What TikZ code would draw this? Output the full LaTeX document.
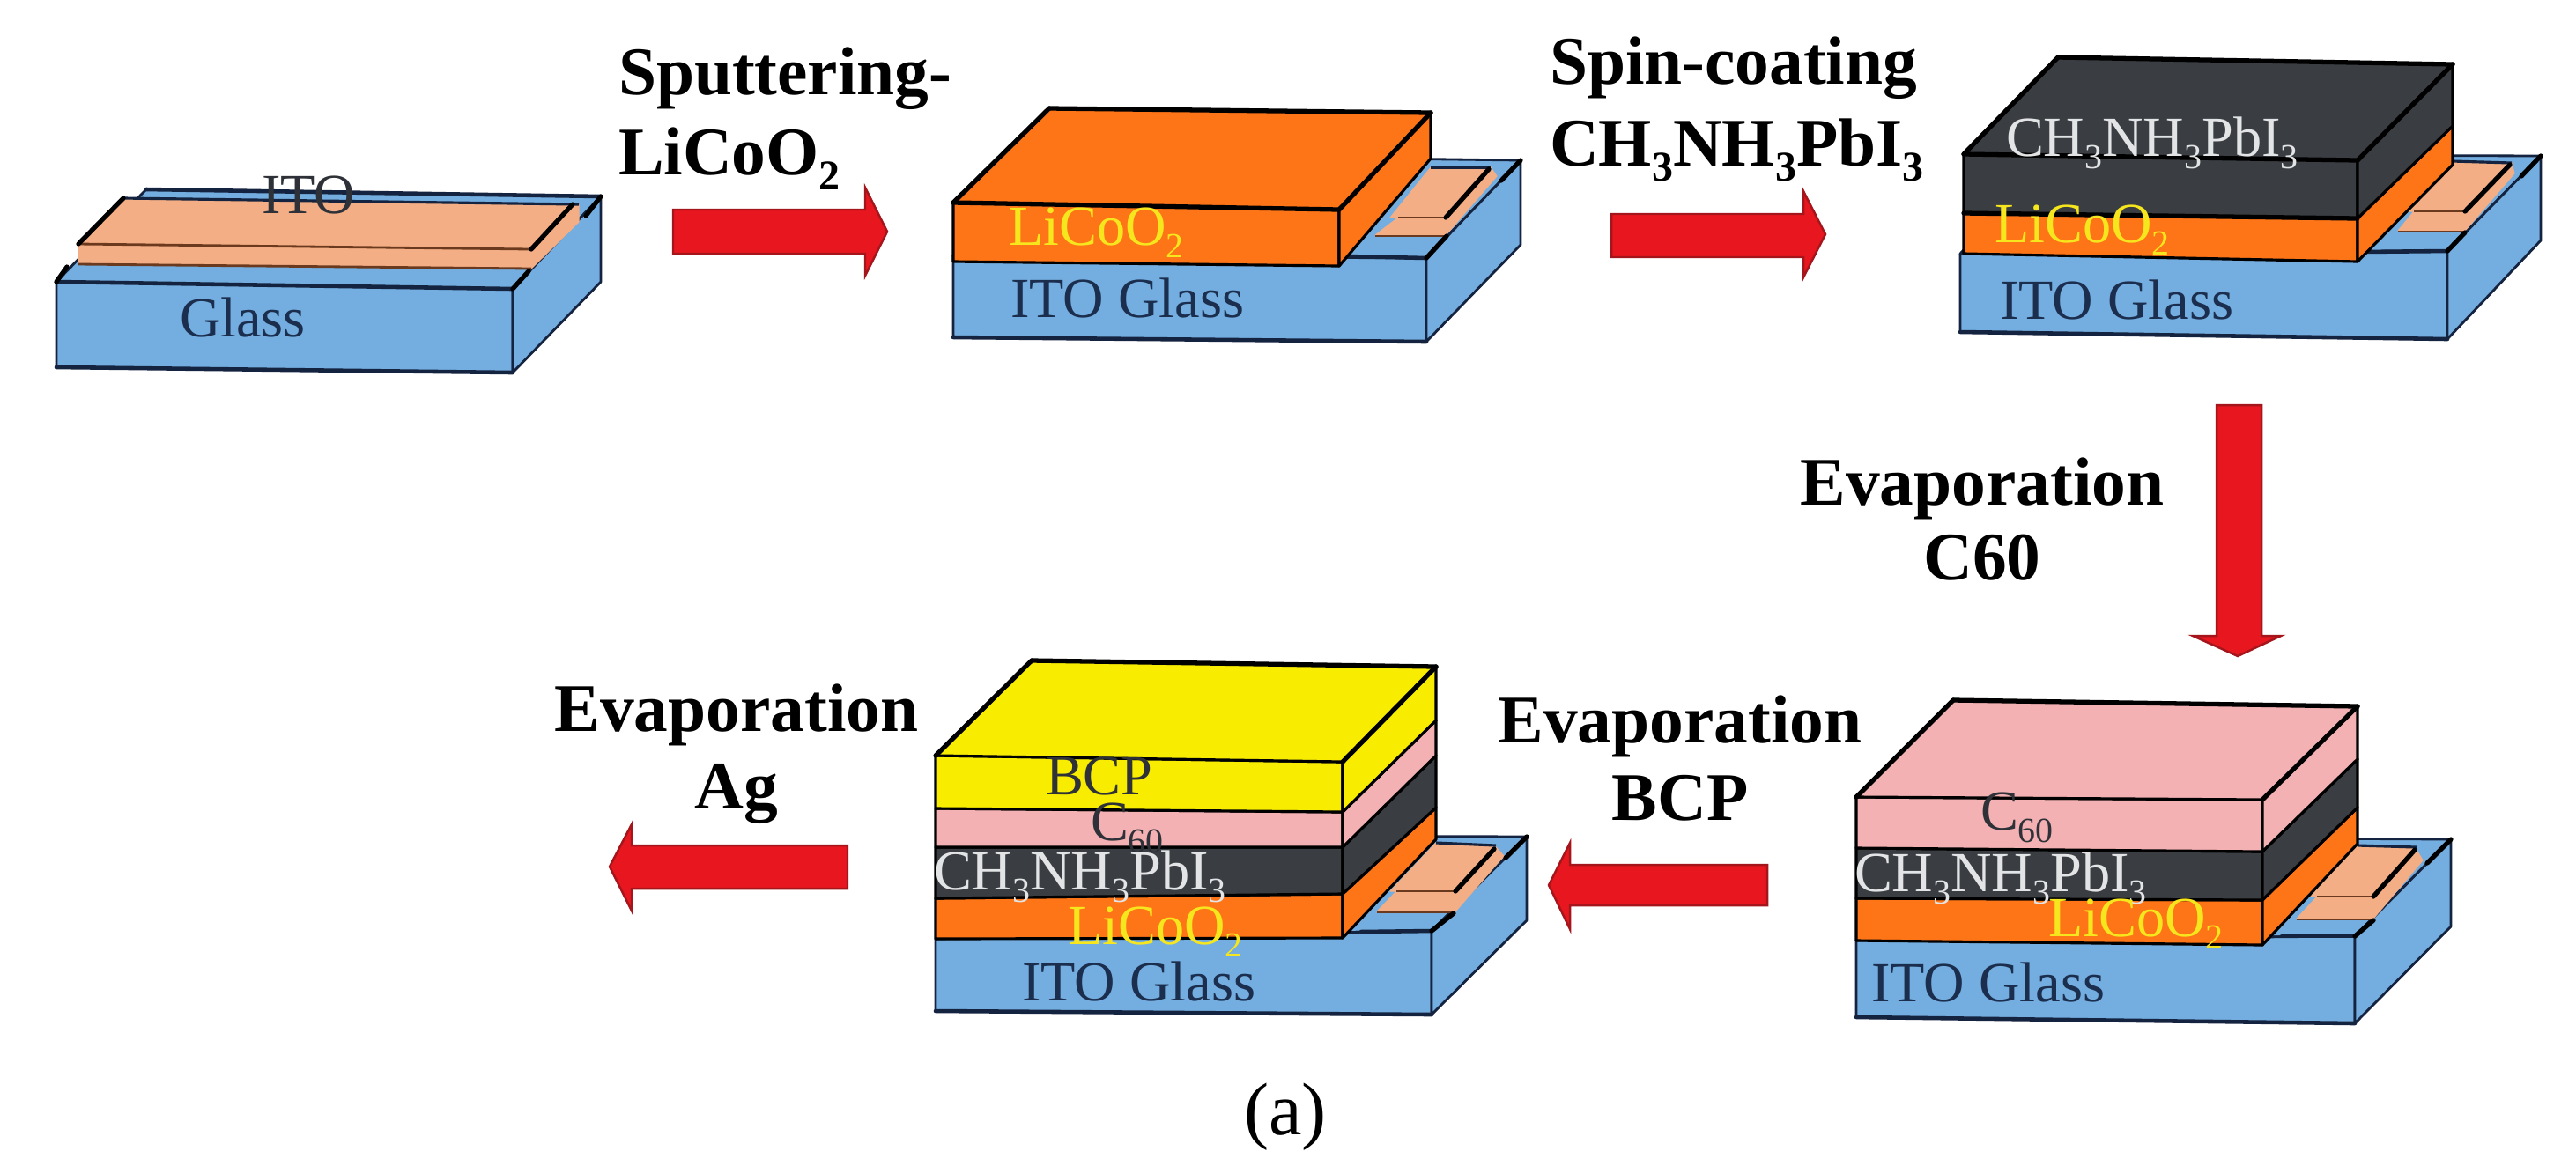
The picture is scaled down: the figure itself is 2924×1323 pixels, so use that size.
\documentclass[tikz,border=0pt]{standalone}
\usepackage{fontspec}
\setmainfont{Liberation Serif}
\definecolor{glassblue}{HTML}{74ADDF}
\definecolor{navyline}{HTML}{14233F}
\definecolor{itoskin}{HTML}{F4AE85}
\definecolor{itoline}{HTML}{6B3A1E}
\definecolor{liorange}{HTML}{FE7518}
\definecolor{perovdark}{HTML}{3A3D41}
\definecolor{cpink}{HTML}{F3B1B3}
\definecolor{bcpyellow}{HTML}{F8EC00}
\definecolor{arrowred}{HTML}{E8171F}
\definecolor{arrowedge}{HTML}{A5161C}
\definecolor{labelyellow}{HTML}{F6E61E}
\definecolor{labelwhite}{HTML}{E2E4E6}
\definecolor{labelnavy}{HTML}{1B2E4E}
\definecolor{labeldark}{HTML}{2E3238}
\newcommand\lowsub[1]{\raisebox{-.22em}{\scalebox{.62}{#1}}}
\newcommand\face[5]{\path[#1] (#2)--(#3)--(#4)--(#5)--cycle;}
\newcommand\edge[3]{\draw[#1] (#2)--(#3);}
\newcommand\LCO{LiCoO\lowsub{2}}
\newcommand\MAPI{CH\lowsub{3}NH\lowsub{3}PbI\lowsub{3}}
\newcommand\Csixty{C\lowsub{60}}
\tikzset{
  glassface/.style={fill=glassblue,draw=navyline,line width=0.8pt,line join=round},
  itoface/.style={fill=itoskin,draw=itoskin,line width=0.3pt,line join=round},
  itoedge/.style={draw=itoline,line width=0.8pt},
  backedge/.style={draw=navyline,line width=0.9pt},
  orangeface/.style={fill=liorange,draw=black,line width=0.9pt,line join=round},
  darkface/.style={fill=perovdark,draw=black,line width=0.9pt,line join=round},
  pinkface/.style={fill=cpink,draw=black,line width=0.9pt,line join=round},
  yellowface/.style={fill=bcpyellow,draw=black,line width=0.9pt,line join=round},
  heavy/.style={draw=black,line width=1.5pt,line cap=round},
  heavynavy/.style={draw=navyline,line width=1.3pt,line cap=round},
  processarrow/.style={fill=arrowred,draw=arrowedge,line width=0.7pt,line join=miter},
  lab/.style={inner sep=0pt,outer sep=0pt,anchor=base west,font=\fontsize{18.3}{20}\selectfont},
  steplab/.style={inner sep=0pt,outer sep=0pt,font=\fontsize{22}{24}\selectfont\bfseries,text=black},
}
\begin{document}
\begin{tikzpicture}[x=0.01cm,y=-0.01cm]
\useasboundingbox[fill=white] (0,0) rectangle (2924,1323);

%% device 1: ITO on glass
\face{glassface}{64,320}{582,328}{682,223}{166,215}
\face{glassface}{64,320}{582,328}{582,423}{64,417}
\face{glassface}{582,328}{682,223}{682,320}{582,423}
\edge{heavynavy}{64,320}{582,328}
\edge{heavynavy}{64,417}{582,423}
\edge{heavynavy}{166,215}{682,223}
\face{itoface}{140,225}{657,232}{603,283}{89,277}
\face{itoface}{89,277}{603,283}{603,305}{89,300}
\face{itoface}{603,283}{657,232}{657,252}{603,305}
\edge{itoedge}{89,277}{603,283}
\edge{itoedge}{89,300}{603,305}
\edge{backedge}{140,225}{657,232}
\edge{heavy}{140,225}{89,277}
\edge{heavy}{603,283}{650,232}
\edge{heavy}{582,328}{600,308}
\edge{heavy}{682,223}{665,245}
\edge{heavy}{64,320}{76,303}

%% device 2: LiCoO2
\face{glassface}{1082,290}{1619,293}{1726,182}{1191,175}
\face{glassface}{1082,290}{1619,293}{1619,388}{1082,383}
\face{glassface}{1619,293}{1726,182}{1726,278}{1619,388}
\edge{heavynavy}{1082,383}{1619,388}
\edge{heavynavy}{1530,291}{1619,293}
\face{itoface}{1561,267}{1641,267}{1641,247}{1587,247}
\face{itoface}{1578,247}{1641,247}{1692,190}{1624,190}
\face{itoface}{1641,247}{1641,267}{1699,200}{1692,190}
\edge{itoedge}{1587,247}{1641,247}
\edge{itoedge}{1561,268}{1641,268}
\edge{backedge}{1624,190}{1692,190}
\edge{heavy}{1641,247}{1690,192}
\edge{heavy}{1619,293}{1642,268}
\edge{heavy}{1726,182}{1704,205}
\face{orangeface}{1082,230}{1520,238}{1520,302}{1082,297}
\face{orangeface}{1520,238}{1624,128}{1624,180}{1520,302}
\face{orangeface}{1082,230}{1520,238}{1624,128}{1191,123}
\edge{heavy}{1082,230}{1191,123}
\edge{heavy}{1520,238}{1624,128}
\edge{heavy}{1082,230}{1520,238}
\edge{heavy}{1191,123}{1624,128}

%% device 3: perovskite
\face{glassface}{2225,288}{2778,285}{2884,177}{2330,175}
\face{glassface}{2225,288}{2778,285}{2778,385}{2225,377}
\face{glassface}{2778,285}{2884,177}{2884,273}{2778,385}
\edge{heavynavy}{2225,377}{2778,385}
\edge{heavynavy}{2680,286}{2778,285}
\face{itoface}{2722,262}{2798,262}{2798,240}{2740,240}
\face{itoface}{2732,240}{2798,240}{2851,185}{2784,183}
\face{itoface}{2798,240}{2798,262}{2854,197}{2851,185}
\edge{itoedge}{2740,240}{2798,240}
\edge{itoedge}{2722,263}{2798,263}
\edge{backedge}{2784,183}{2851,185}
\edge{heavy}{2798,240}{2849,187}
\edge{heavy}{2778,285}{2798,264}
\edge{heavy}{2884,177}{2862,200}
\face{orangeface}{2229,242}{2676,248}{2676,297}{2229,288}
\face{orangeface}{2676,248}{2784,143}{2784,187}{2676,297}
\face{darkface}{2229,175}{2676,182}{2676,248}{2229,242}
\face{darkface}{2676,182}{2784,73}{2784,143}{2676,248}
\face{darkface}{2229,175}{2676,182}{2784,73}{2336,65}
\edge{heavy}{2229,175}{2336,65}
\edge{heavy}{2676,182}{2784,73}
\edge{heavy}{2229,175}{2676,182}
\edge{heavy}{2336,65}{2784,73}
\edge{heavy}{2229,242}{2676,248}

%% device 5 (lower right): C60
\face{glassface}{2107,1068}{2673,1063}{2782,953}{2230,950}
\face{glassface}{2107,1068}{2673,1063}{2673,1162}{2107,1155}
\face{glassface}{2673,1063}{2782,953}{2782,1052}{2673,1162}
\edge{heavynavy}{2107,1155}{2673,1162}
\edge{heavynavy}{2590,1063}{2673,1063}
\face{itoface}{2607,1043}{2694,1043}{2694,1018}{2630,1018}
\face{itoface}{2622,1018}{2694,1018}{2743,962}{2676,960}
\face{itoface}{2694,1018}{2694,1043}{2750,977}{2743,965}
\edge{itoedge}{2630,1018}{2694,1018}
\edge{itoedge}{2607,1044}{2694,1044}
\edge{backedge}{2676,960}{2743,962}
\edge{heavy}{2694,1018}{2741,965}
\edge{heavy}{2673,1063}{2694,1045}
\edge{heavy}{2782,953}{2755,980}
\face{orangeface}{2107,1020}{2568,1022}{2568,1073}{2107,1068}
\face{orangeface}{2568,1022}{2676,917}{2676,958}{2568,1073}
\face{darkface}{2107,963}{2568,967}{2568,1022}{2107,1020}
\face{darkface}{2568,967}{2676,862}{2676,917}{2568,1022}
\face{pinkface}{2107,905}{2568,908}{2568,967}{2107,963}
\face{pinkface}{2568,908}{2676,802}{2676,862}{2568,967}
\face{pinkface}{2107,905}{2568,908}{2676,802}{2217,795}
\edge{heavy}{2107,905}{2217,795}
\edge{heavy}{2568,908}{2676,802}
\edge{heavy}{2217,795}{2676,802}

%% device 4 (lower middle): BCP
\face{glassface}{1062,1066}{1625,1057}{1733,950}{1180,948}
\face{glassface}{1062,1066}{1625,1057}{1625,1152}{1062,1148}
\face{glassface}{1625,1057}{1733,950}{1733,1045}{1625,1152}
\edge{heavynavy}{1062,1148}{1625,1152}
\edge{heavynavy}{1545,1058}{1625,1057}
\face{itoface}{1563,1035}{1652,1035}{1652,1012}{1585,1012}
\face{itoface}{1578,1012}{1652,1012}{1698,960}{1630,957}
\face{itoface}{1652,1012}{1652,1035}{1707,972}{1698,962}
\edge{itoedge}{1585,1012}{1652,1012}
\edge{itoedge}{1563,1036}{1652,1036}
\edge{backedge}{1630,957}{1698,960}
\edge{heavy}{1652,1012}{1696,964}
\edge{heavy}{1625,1057}{1650,1037}
\edge{heavy}{1733,950}{1709,974}
\face{orangeface}{1062,1020}{1524,1015}{1524,1065}{1062,1066}
\face{orangeface}{1524,1015}{1630,917}{1630,953}{1524,1065}
\face{darkface}{1062,962}{1524,962}{1524,1015}{1062,1020}
\face{darkface}{1524,962}{1630,858}{1630,917}{1524,1015}
\face{pinkface}{1062,918}{1524,922}{1524,962}{1062,962}
\face{pinkface}{1524,922}{1630,818}{1630,858}{1524,962}
\face{yellowface}{1062,858}{1524,865}{1524,922}{1062,918}
\face{yellowface}{1524,865}{1630,757}{1630,818}{1524,922}
\face{yellowface}{1062,858}{1524,865}{1630,757}{1171,750}
\edge{heavy}{1062,858}{1171,750}
\edge{heavy}{1524,865}{1630,757}
\edge{heavy}{1171,750}{1630,757}

%% process arrows
\path[processarrow] (764,238)--(982,238)--(982,213)--(1007,263)--(982,313)--(982,288)--(764,288)--cycle;
\path[processarrow] (1829,243)--(2047,243)--(2047,217)--(2072,266)--(2047,315)--(2047,292)--(1829,292)--cycle;
\path[processarrow] (2516,460)--(2567,460)--(2567,722)--(2589,722)--(2540,745)--(2489,722)--(2516,722)--cycle;
\path[processarrow] (2006,982)--(1782,982)--(1782,957)--(1758,1005)--(1782,1055)--(1782,1028)--(2006,1028)--cycle;
\path[processarrow] (962,960)--(717,960)--(717,936)--(692,984)--(717,1034)--(717,1009)--(962,1009)--cycle;

%% step labels
\node[steplab,anchor=base west] (t1a) at (702,107) {Sputtering-};
\node[steplab,anchor=base west] (t1b) at (702,198) {\LCO};
\node[steplab,anchor=base west] (t2a) at (1759,95) {Spin-coating};
\node[steplab,anchor=base west] (t2b) at (1759,188) {\MAPI};
\node[steplab,anchor=base] (t3a) at (2250,573) {Evaporation};
\node[steplab,anchor=base] (t3b) at (2250,658) {C60};
\node[steplab,anchor=base] (t4a) at (1907,843) {Evaporation};
\node[steplab,anchor=base] (t4b) at (1907,931) {BCP};
\node[steplab,anchor=base] (t5a) at (836,830) {Evaporation};
\node[steplab,anchor=base] (t5b) at (836,918) {Ag};

%% layer labels
\node[lab,text=labeldark] (d1ito) at (297,242) {ITO};
\node[lab,text=labelnavy] (d1gl) at (204,382) {Glass};
\node[lab,text=labelyellow] (d2li) at (1145,278) {\LCO};
\node[lab,text=labelnavy] (d2gl) at (1147,360) {ITO Glass};
\node[lab,text=labelwhite] (d3pv) at (2277,177) {\MAPI};
\node[lab,text=labelyellow] (d3li) at (2264,275) {\LCO};
\node[lab,text=labelnavy] (d3gl) at (2270,362) {ITO Glass};
\node[lab,text=labeldark] (d5c) at (2248,942) {\Csixty};
\node[lab,text=labelwhite] (d5pv) at (2105,1012) {\MAPI};
\node[lab,text=labelyellow] (d5li) at (2325,1063) {\LCO};
\node[lab,text=labelnavy] (d5gl) at (2124,1137) {ITO Glass};
\node[lab,text=labeldark] (d4b) at (1187,902) {BCP};
\node[lab,text=labeldark] (d4c) at (1238,954) {\Csixty};
\node[lab,text=labelwhite] (d4pv) at (1060,1010) {\MAPI};
\node[lab,text=labelyellow] (d4li) at (1212,1072) {\LCO};
\node[lab,text=labelnavy] (d4gl) at (1160,1136) {ITO Glass};
\node[inner sep=0pt,anchor=base,font=\fontsize{24}{26}\selectfont] (cap) at (1459,1288) {(a)};
\end{tikzpicture}
\end{document}
